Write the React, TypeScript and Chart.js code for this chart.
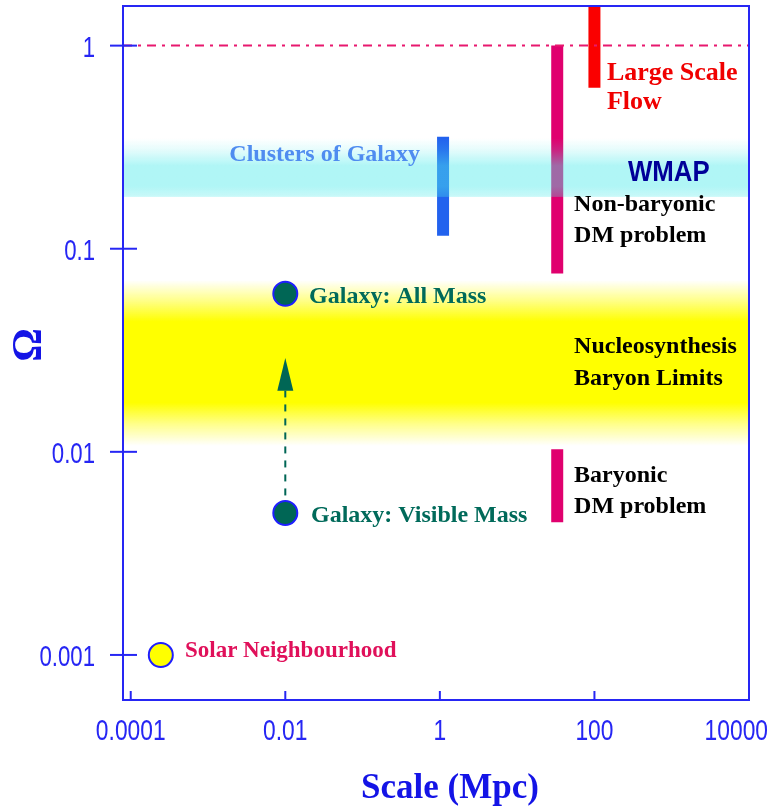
import React, { useEffect, useRef } from "react";
import { Chart, registerables } from "chart.js";

Chart.register(...registerables);

// ---- data ----
const X_TICKS = [0.0001, 0.01, 1, 100, 10000];
const X_TICK_LABELS = ["0.0001", "0.01", "1", "100", "10000"];
const Y_TICKS = [0.001, 0.01, 0.1, 1];
const Y_TICK_LABELS = ["0.001", "0.01", "0.1", "1"];

const X_MIN = Math.pow(10, -4.1);
const X_MAX = 10000;
const Y_MIN = 0.000645;
const Y_MAX = 1.567;

const OMEGA_UNITY = 1;
const CLUSTERS_SCALE = 1.1;
const CLUSTERS_OMEGA = [0.116, 0.356];
const DM_SCALE = 33;
const NONBARYONIC_OMEGA = [0.0755, 1.0];
const BARYONIC_OMEGA = [0.0045, 0.0103];
const FLOW_SCALE = 100;
const FLOW_OMEGA = [0.62, 1.6];
const GALAXY_SCALE = 0.01;
const GALAXY_OMEGA = [0.005, 0.06]; // visible mass, all mass
const SOLAR_SCALE = 0.000245;
const SOLAR_OMEGA = 0.001;
const ARROW_OMEGA = [0.0061, 0.02, 0.029]; // shaft start, head base, tip
const WMAP_BAND = [0.18, 0.35];
const NUCLEO_BAND = [0.0107, 0.07];

// annotation anchors in data units
const SERIF = '"Liberation Serif", "Times New Roman", serif';
const LABELS = [
  { text: "Clusters of Galaxy", x: 0.553, y: 0.3, color: "#4f8cf0", align: "right", size: 24 },
  { text: "WMAP", x: 272, y: 0.245, color: "#000099", align: "left", size: 30, sans: true, sx: 0.86 },
  { text: "Large Scale", x: 145, y: 0.755, color: "#f00000", align: "left", size: 26 },
  { text: "Flow", x: 145, y: 0.545, color: "#f00000", align: "left", size: 26 },
  { text: "Non-baryonic", x: 54.5, y: 0.171, color: "#000000", align: "left", size: 24 },
  { text: "DM problem", x: 54.5, y: 0.12, color: "#000000", align: "left", size: 24 },
  { text: "Nucleosynthesis", x: 54.5, y: 0.034, color: "#000000", align: "left", size: 24 },
  { text: "Baryon Limits", x: 54.5, y: 0.0238, color: "#000000", align: "left", size: 24 },
  { text: "Baryonic", x: 54.5, y: 0.0079, color: "#000000", align: "left", size: 24 },
  { text: "DM problem", x: 54.5, y: 0.00557, color: "#000000", align: "left", size: 24 },
  { text: "Galaxy: All Mass", x: 0.0203, y: 0.06, color: "#006a5a", align: "left", size: 24 },
  { text: "Galaxy: Visible Mass", x: 0.0215, y: 0.005, color: "#006a5a", align: "left", size: 24 },
  { text: "Solar Neighbourhood", x: 0.000503, y: 0.00108, color: "#e0105a", align: "left", size: 23 },
];

const AXIS_BLUE = "#2626f4";
const TEAL = "#006655";

function drawText(ctx: any, text: string, x: number, y: number, font: string, color: string, align: string, sx = 1, baseline = "middle") {
  ctx.save();
  ctx.font = font;
  ctx.fillStyle = color;
  ctx.textBaseline = baseline;
  ctx.textAlign = "left";
  const w = ctx.measureText(text).width * sx;
  const left = align === "left" ? x : align === "right" ? x - w : x - w / 2;
  ctx.translate(left, y);
  ctx.scale(sx, 1);
  ctx.fillText(text, 0, 0);
  ctx.restore();
  return w;
}

const bandsBelow = {
  id: "bandsBelow",
  beforeDatasetsDraw(chart: any) {
    const { ctx, chartArea: a, scales } = chart;
    const y = scales.y;
    const top = y.getPixelForValue(NUCLEO_BAND[1]);
    const bot = y.getPixelForValue(NUCLEO_BAND[0]);
    const g = ctx.createLinearGradient(0, top, 0, bot);
    g.addColorStop(0, "rgba(255,255,0,0)");
    g.addColorStop(0.12, "rgba(255,255,0,0.45)");
    g.addColorStop(0.25, "rgba(255,255,0,1)");
    g.addColorStop(0.74, "rgba(255,255,0,1)");
    g.addColorStop(0.87, "rgba(255,255,0,0.45)");
    g.addColorStop(1, "rgba(255,255,0,0)");
    ctx.save();
    ctx.fillStyle = g;
    ctx.fillRect(a.left, top, a.right - a.left, bot - top);
    ctx.restore();
  },
};

const overlay = {
  id: "overlay",
  afterDatasetsDraw(chart: any) {
    const { ctx, chartArea: a, scales } = chart;
    const xs = scales.x;
    const ys = scales.y;

    // WMAP band (translucent, over the bars)
    const t = ys.getPixelForValue(WMAP_BAND[1]);
    const b = ys.getPixelForValue(WMAP_BAND[0]);
    const g = ctx.createLinearGradient(0, t, 0, b);
    g.addColorStop(0, "rgba(80,235,235,0)");
    g.addColorStop(0.2, "rgba(80,235,235,0.15)");
    g.addColorStop(0.47, "rgba(80,235,235,0.45)");
    g.addColorStop(0.82, "rgba(80,235,235,0.45)");
    g.addColorStop(1, "rgba(80,235,235,0.3)");
    ctx.save();
    ctx.fillStyle = g;
    ctx.fillRect(a.left, t, a.right - a.left, b - t);
    ctx.restore();

    // arrow head
    const ax = xs.getPixelForValue(GALAXY_SCALE);
    const base = ys.getPixelForValue(ARROW_OMEGA[1]);
    const tip = ys.getPixelForValue(ARROW_OMEGA[2]);
    ctx.save();
    ctx.fillStyle = TEAL;
    ctx.beginPath();
    ctx.moveTo(ax, tip);
    ctx.lineTo(ax + 8, base);
    ctx.lineTo(ax - 8, base);
    ctx.closePath();
    ctx.fill();
    ctx.restore();

    // frame
    ctx.save();
    ctx.strokeStyle = AXIS_BLUE;
    ctx.lineWidth = 2;
    ctx.strokeRect(a.left, a.top, a.right - a.left, a.bottom - a.top);
    const tickFont = '30px "Liberation Sans", Arial, sans-serif';
    // y ticks (crossing axis)
    Y_TICKS.forEach((v, i) => {
      const p = ys.getPixelForValue(v);
      ctx.beginPath();
      ctx.moveTo(a.left - 13, p);
      ctx.lineTo(a.left + 14, p);
      ctx.stroke();
      drawText(ctx, Y_TICK_LABELS[i], a.left - 28, p + 11, tickFont, AXIS_BLUE, "right", 0.74, "alphabetic");
    });
    // x ticks (inside)
    X_TICKS.forEach((v, i) => {
      const p = xs.getPixelForValue(v);
      ctx.beginPath();
      ctx.moveTo(p, a.bottom - 9);
      ctx.lineTo(p, a.bottom + 1);
      ctx.stroke();
      ctx.save();
      ctx.font = tickFont;
      const w = ctx.measureText(X_TICK_LABELS[i]).width * 0.76;
      ctx.restore();
      const cx = Math.min(p, a.right + 19 - w / 2);
      drawText(ctx, X_TICK_LABELS[i], cx, a.bottom + 40, tickFont, AXIS_BLUE, "center", 0.76, "alphabetic");
    });
    ctx.restore();

    // axis titles
    drawText(ctx, "Scale (Mpc)", (a.left + a.right) / 2 + 14, a.bottom + 98, `bold 35px ${SERIF}`, "#1414e6", "center", 1, "alphabetic");
    ctx.save();
    ctx.translate(30, (a.top + a.bottom) / 2 - 8);
    ctx.rotate(-Math.PI / 2);
    drawText(ctx, "Ω", 0, 0, `bold 42px ${SERIF}`, "#1414e6", "center", 1, "middle");
    ctx.restore();

    // annotations
    LABELS.forEach((l: any) => {
      const px = xs.getPixelForValue(l.x);
      const py = ys.getPixelForValue(l.y);
      const font = l.sans ? `bold ${l.size}px "Liberation Sans", Arial, sans-serif` : `bold ${l.size}px ${SERIF}`;
      drawText(ctx, l.text, px, py + 3, font, l.color, l.align, l.sx || 1, "middle");
    });
  },
};

const seg = (x: number, ys: number[]) => ys.map((y) => ({ x, y }));

export default function App() {
  const ref = useRef<HTMLCanvasElement>(null);
  useEffect(() => {
    if (!ref.current) return;
    const barBase = { showLine: true, pointRadius: 0, borderWidth: 12, borderCapStyle: "butt", clip: 0, fill: false };
    const chart = new Chart(ref.current, {
      type: "scatter",
      data: {
        datasets: [
          { ...barBase, data: [{ x: X_MIN, y: OMEGA_UNITY }, { x: X_MAX, y: OMEGA_UNITY }], borderColor: "#e8186e", borderWidth: 2, borderDash: [9, 6, 3, 6] },
          { ...barBase, data: seg(CLUSTERS_SCALE, CLUSTERS_OMEGA), borderColor: "#2262ee" },
          { ...barBase, data: seg(DM_SCALE, NONBARYONIC_OMEGA), borderColor: "#e0006e" },
          { ...barBase, data: seg(DM_SCALE, BARYONIC_OMEGA), borderColor: "#e0006e" },
          { ...barBase, data: seg(FLOW_SCALE, FLOW_OMEGA), borderColor: "#fa0000" },
          { ...barBase, data: seg(GALAXY_SCALE, [ARROW_OMEGA[0], ARROW_OMEGA[1]]), borderColor: TEAL, borderWidth: 2, borderDash: [7, 7] },
          { data: GALAXY_OMEGA.map((y) => ({ x: GALAXY_SCALE, y })), pointRadius: 12, backgroundColor: TEAL, borderColor: "#1e1eff", borderWidth: 2, clip: 20 },
          { data: [{ x: SOLAR_SCALE, y: SOLAR_OMEGA }], pointRadius: 12, backgroundColor: "#ffff00", borderColor: "#1e1eff", borderWidth: 2, clip: 20 },
        ] as any,
      },
      options: {
        responsive: false,
        animation: false,
        layout: { autoPadding: false, padding: { top: 6, right: 32, left: 0, bottom: 0 } },
        plugins: { legend: { display: false }, tooltip: { enabled: false } },
        scales: {
          x: {
            type: "logarithmic",
            min: X_MIN,
            max: X_MAX,
            ticks: { display: false },
            grid: { display: false },
            border: { display: false },
            afterBuildTicks: (s: any) => { s.ticks = X_TICKS.map((value) => ({ value })); },
            afterFit: (s: any) => { s.height = 106; },
          },
          y: {
            type: "logarithmic",
            min: Y_MIN,
            max: Y_MAX,
            ticks: { display: false },
            grid: { display: false },
            border: { display: false },
            afterBuildTicks: (s: any) => { s.ticks = Y_TICKS.map((value) => ({ value })); },
            afterFit: (s: any) => { s.width = 123; },
          },
        },
      } as any,
      plugins: [bandsBelow, overlay],
    });
    return () => chart.destroy();
  }, []);
  return (
    <div style={{ position: "absolute", left: 0, top: 0, width: 781, height: 806, background: "#fff" }}>
      <canvas ref={ref} width={781} height={806} style={{ display: "block" }} />
    </div>
  );
}
